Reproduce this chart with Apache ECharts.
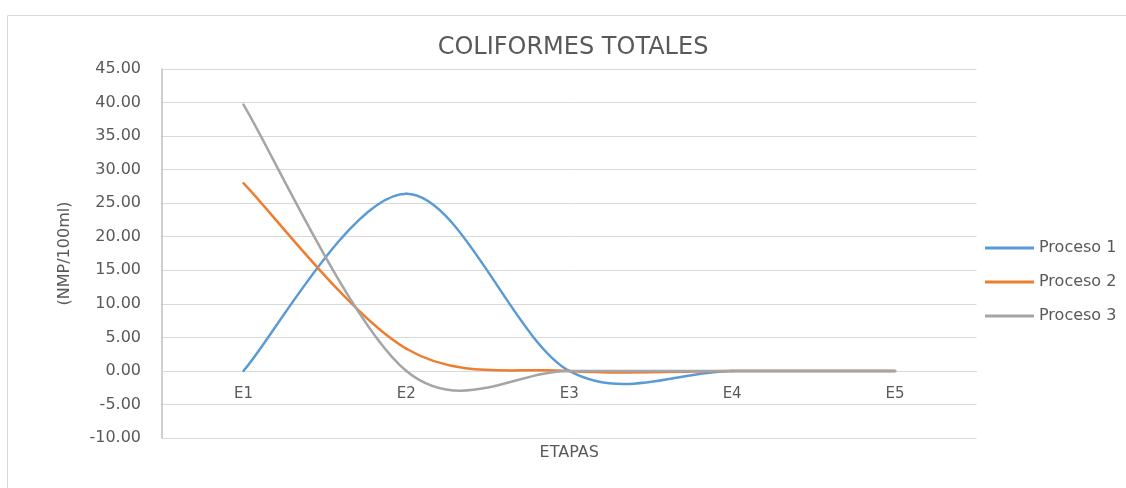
<!DOCTYPE html>
<html>
<head>
<meta charset="utf-8">
<script src="https://cdn.jsdelivr.net/npm/echarts@6/dist/echarts.min.js"></script>
<style>
  html, body { margin: 0; padding: 0; background: #fff; }
  #chart { width: 1126px; height: 488px; }
</style>
</head>
<body>
<div id="chart"></div>
<script>
'use strict';

var etapas = ['E1', 'E2', 'E3', 'E4', 'E5'];
var proceso1 = [0, 26.4, 0, 0, 0];
var proceso2 = [28, 3.3, 0, 0, 0];
var proceso3 = [39.7, 0, 0, 0, 0];

var textColor = '#595959';
var font = 'DejaVu Sans';

/**
 * Builds a custom series that draws the values as an Excel-style smoothed
 * line (Bezier segments, control points at 1/6 of the neighbour span).
 */
function smoothSeries(name, values, color) {
    var data = [];
    for (var i = 0; i < values.length; i++) {
        data.push([i, values[i]]);
    }
    return {
        name: name,
        type: 'custom',
        data: data,
        encode: { x: 0, y: 1 },
        itemStyle: { color: color },
        renderItem: function (params, api) {
            var i = params.dataIndex;
            var n = values.length;
            if (i >= n - 1) {
                return null;
            }
            var p0 = api.coord([Math.max(i - 1, 0), values[Math.max(i - 1, 0)]]);
            var p1 = api.coord([i, values[i]]);
            var p2 = api.coord([i + 1, values[i + 1]]);
            var p3 = api.coord([Math.min(i + 2, n - 1), values[Math.min(i + 2, n - 1)]]);
            return {
                type: 'bezierCurve',
                shape: {
                    x1: p1[0], y1: p1[1],
                    cpx1: p1[0] + (p2[0] - p0[0]) / 6,
                    cpy1: p1[1] + (p2[1] - p0[1]) / 6,
                    cpx2: p2[0] - (p3[0] - p1[0]) / 6,
                    cpy2: p2[1] - (p3[1] - p1[1]) / 6,
                    x2: p2[0], y2: p2[1]
                },
                style: { stroke: color, lineWidth: 2.5, fill: null, lineCap: 'round' }
            };
        }
    };
}

function renderChart(divId) {
    var chart = echarts.init(document.getElementById(divId));

    var options = {
        animation: false,
        textStyle: { fontFamily: font },
        graphic: [
            {
                type: 'rect',
                shape: { x: 7.5, y: 15.5, width: 1140, height: 500 },
                style: { fill: 'none', stroke: '#d9d9d9', lineWidth: 1 },
                silent: true
            }
        ],
        title: {
            text: 'COLIFORMES TOTALES',
            left: 568,
            top: 31,
            textAlign: 'center',
            textStyle: {
                color: textColor,
                fontFamily: font,
                fontSize: 24,
                fontWeight: 'normal'
            }
        },
        legend: {
            data: ['Proceso 1', 'Proceso 2', 'Proceso 3'],
            orient: 'vertical',
            left: 985,
            top: 238,
            padding: 0,
            icon: 'rect',
            itemWidth: 49,
            itemHeight: 3,
            itemGap: 14,
            textStyle: {
                color: textColor,
                fontFamily: font,
                fontSize: 16,
                lineHeight: 20
            }
        },
        grid: {
            left: 162,
            right: 149.5,
            top: 69,
            bottom: 50,
            containLabel: false,
            outerBoundsMode: 'none'
        },
        xAxis: {
            type: 'category',
            data: etapas,
            offset: -67,
            name: 'ETAPAS',
            nameLocation: 'middle',
            nameGap: 74,
            nameTextStyle: { color: textColor, fontSize: 16, fontFamily: font },
            axisLine: { onZero: false, lineStyle: { color: '#d9d9d9', width: 1 } },
            axisTick: { show: false },
            axisLabel: { color: textColor, fontSize: 15, margin: 16, fontFamily: font }
        },
        yAxis: {
            type: 'value',
            min: -10,
            max: 45,
            interval: 5,
            name: '(NMP/100ml)',
            nameLocation: 'middle',
            nameGap: 89,
            nameRotate: 90,
            nameTextStyle: { color: textColor, fontSize: 16, fontFamily: font },
            axisLine: { show: true, lineStyle: { color: '#bfbfbf', width: 1.5 } },
            axisTick: { show: false },
            axisLabel: {
                color: textColor,
                fontSize: 16,
                margin: 21,
                fontFamily: font,
                formatter: function (v) { return v.toFixed(2); }
            },
            splitLine: { lineStyle: { color: '#d9d9d9', width: 1 } }
        },
        series: [
            smoothSeries('Proceso 1', proceso1, '#5b9bd5'),
            smoothSeries('Proceso 2', proceso2, '#ed7d31'),
            smoothSeries('Proceso 3', proceso3, '#a5a5a5')
        ]
    };

    chart.setOption(options);
    window.onresize = function () {
        chart.resize();
    };
}

renderChart('chart');
</script>
</body>
</html>
